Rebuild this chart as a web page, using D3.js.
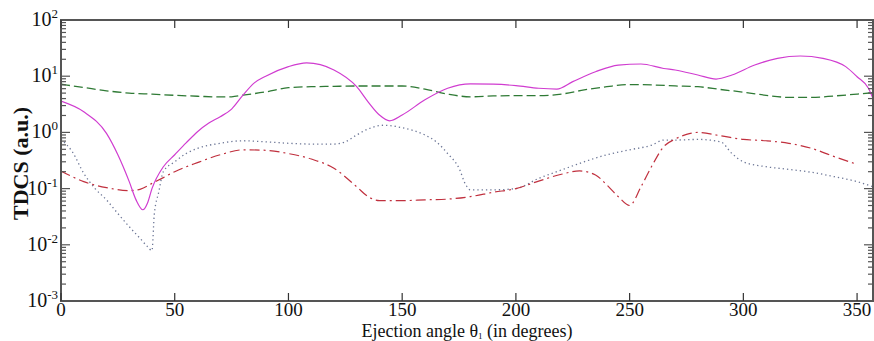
<!DOCTYPE html>
<html>
<head>
<meta charset="utf-8">
<script src="https://cdn.jsdelivr.net/npm/d3@7"></script>
<style>
  body { margin: 0; background: #fff; }
  text { font-family: "Liberation Serif", "Times New Roman", serif; }
</style>
</head>
<body>
<div id="chart-area"></div>
<script>
// ejection angle (deg) and TDCS values
var magentaTheta = [0, 10, 20, 25, 30, 33, 36, 38, 40, 45, 50, 55, 60, 65, 70, 75, 80, 85, 90, 100, 108, 120, 130, 135, 140, 144.5, 150, 160, 170, 180, 190, 200, 210, 218, 225, 235, 245, 255, 265, 270, 280, 288, 295, 305, 315, 325, 335, 345, 350, 355, 357];
var magentaVals  = [3.6, 2.33, 0.96, 0.40, 0.133, 0.063, 0.042, 0.055, 0.10, 0.245, 0.40, 0.65, 1.03, 1.47, 1.9, 2.6, 4.6, 7.6, 10, 14.8, 17.2, 12.9, 6.5, 3.5, 2.04, 1.61, 2.04, 3.8, 6.1, 7.3, 7.2, 6.8, 6.1, 5.9, 8.0, 12, 15.8, 16.5, 13.7, 12.9, 10.5, 8.9, 10.5, 15.8, 20.8, 22.9, 20.8, 14.8, 9.8, 6.1, 4.0];

var greenTheta = [0, 10, 20, 30, 40, 50, 60, 70, 75, 80, 90, 100, 110, 120, 130, 140, 150, 160, 170, 180, 190, 200, 210, 220, 230, 240, 250, 260, 270, 280, 290, 300, 310, 320, 330, 340, 350, 357];
var greenVals  = [7.2, 6.3, 5.5, 5.0, 4.8, 4.57, 4.4, 4.27, 4.3, 4.6, 5.25, 6.25, 6.5, 6.6, 6.7, 6.7, 6.7, 5.9, 4.8, 4.3, 4.45, 4.5, 4.5, 4.8, 5.7, 6.5, 7.1, 7.0, 6.7, 6.5, 5.8, 5.2, 4.57, 4.2, 4.2, 4.45, 4.8, 5.1];

var dottedTheta = [0, 5, 10, 15, 20, 25, 30, 35, 38, 40, 41, 43, 45, 50, 55, 60, 70, 80, 90, 100, 110, 120, 125, 130, 135, 142, 150, 160, 165, 170, 175, 178, 180, 190, 200, 210, 220, 230, 240, 250, 260, 265, 270, 280, 290, 295, 300, 310, 320, 330, 340, 350, 357];
var dottedVals  = [0.76, 0.45, 0.187, 0.10, 0.063, 0.036, 0.021, 0.0127, 0.0093, 0.0079, 0.034, 0.088, 0.2, 0.30, 0.42, 0.52, 0.64, 0.71, 0.68, 0.64, 0.62, 0.62, 0.68, 0.90, 1.15, 1.34, 1.21, 0.90, 0.68, 0.42, 0.23, 0.116, 0.095, 0.095, 0.10, 0.152, 0.214, 0.30, 0.40, 0.49, 0.60, 0.73, 0.73, 0.75, 0.68, 0.42, 0.30, 0.245, 0.22, 0.195, 0.163, 0.133, 0.108];

var redTheta = [0, 10, 20, 30, 35, 40, 45, 50, 60, 70, 80, 90, 100, 110, 120, 130, 135, 140, 150, 160, 170, 180, 190, 200, 210, 220, 228, 235, 240, 245, 250, 255, 260, 265, 270, 275, 280, 290, 300, 310, 320, 330, 340, 350];
var redVals  = [0.206, 0.133, 0.104, 0.092, 0.098, 0.124, 0.157, 0.20, 0.29, 0.40, 0.49, 0.48, 0.42, 0.336, 0.23, 0.108, 0.072, 0.061, 0.061, 0.063, 0.065, 0.072, 0.086, 0.10, 0.136, 0.18, 0.206, 0.175, 0.116, 0.072, 0.050, 0.108, 0.263, 0.56, 0.76, 0.92, 1.0, 0.87, 0.75, 0.71, 0.64, 0.52, 0.37, 0.27];

var xTicks = [0, 50, 100, 150, 200, 250, 300, 350];
var yExponents = [-3, -2, -1, 0, 1, 2];

var width = 874;
var height = 341;
var margin = { left: 61, right: 1, top: 20, bottom: 40 };
var plotL = margin.left, plotR = width - margin.right;
var plotT = margin.top, plotB = height - margin.bottom;

var svg = d3.select("#chart-area").append("svg")
    .attr("width", width)
    .attr("height", height);

var x = d3.scaleLinear()
    .domain([0, 357])
    .range([plotL, plotR]);

var y = d3.scaleLog()
    .domain([1e-3, 1e2])
    .range([plotB, plotT]);

svg.append("clipPath").attr("id", "plot-clip")
    .append("rect")
    .attr("x", plotL).attr("y", plotT)
    .attr("width", plotR - plotL).attr("height", plotB - plotT);

var series = [
    { theta: greenTheta, vals: greenVals, color: "#2f7a35", dash: "9,4", w: 1.3 },
    { theta: dottedTheta, vals: dottedVals, color: "#6c7696", dash: "1.3,3", w: 1.3 },
    { theta: redTheta, vals: redVals, color: "#c0303e", dash: "10,4,2,4", w: 1.2 },
    { theta: magentaTheta, vals: magentaVals, color: "#d03cd0", dash: null, w: 1.2 }
];

var line = d3.line()
    .x((d) => x(d[0]))
    .y((d) => y(d[1]))
    .curve(d3.curveMonotoneX);

var plot = svg.append("g").attr("clip-path", "url(#plot-clip)");

series.forEach((s) => {
    var pts = s.theta.map((t, i) => [t, s.vals[i]]);
    plot.append("path")
        .attr("d", line(pts))
        .attr("fill", "none")
        .attr("stroke", s.color)
        .attr("stroke-width", s.w)
        .attr("stroke-dasharray", s.dash);
});

// frame
var axisColor = "#555";
svg.append("rect")
    .attr("x", plotL).attr("y", plotT)
    .attr("width", plotR - plotL).attr("height", plotB - plotT)
    .attr("fill", "none")
    .attr("stroke", axisColor)
    .attr("stroke-width", 2);

// log ticks, inward on left and right
var logTicks = y.ticks();
logTicks.forEach((t) => {
    var major = Math.abs(Math.log10(t) - Math.round(Math.log10(t))) < 1e-9;
    var len = major ? 9 : 5;
    svg.append("line")
        .attr("x1", plotL).attr("x2", plotL + len)
        .attr("y1", y(t)).attr("y2", y(t))
        .attr("stroke", axisColor).attr("stroke-width", 1.2);
    svg.append("line")
        .attr("x1", plotR).attr("x2", plotR - len)
        .attr("y1", y(t)).attr("y2", y(t))
        .attr("stroke", axisColor).attr("stroke-width", 1.2);
});

// x ticks, inward on top and bottom
xTicks.forEach((t) => {
    svg.append("line")
        .attr("x1", x(t)).attr("x2", x(t))
        .attr("y1", plotT).attr("y2", plotT + 8)
        .attr("stroke", "#333").attr("stroke-width", 1.2);
    svg.append("line")
        .attr("x1", x(t)).attr("x2", x(t))
        .attr("y1", plotB).attr("y2", plotB - 8)
        .attr("stroke", "#333").attr("stroke-width", 1.2);
    svg.append("text")
        .attr("x", x(t))
        .attr("y", plotB + 15)
        .attr("text-anchor", "middle")
        .attr("font-size", "19px")
        .attr("fill", "#111")
        .text(t);
});

// y tick labels 10^n
yExponents.forEach((e) => {
    var lbl = svg.append("text")
        .attr("x", plotL - 3)
        .attr("y", y(Math.pow(10, e)) + 6)
        .attr("text-anchor", "end")
        .attr("font-size", "20px")
        .attr("fill", "#111");
    lbl.append("tspan").text("10");
    lbl.append("tspan")
        .attr("font-size", "13px")
        .attr("dy", "-8")
        .text(e < 0 ? "-" + (-e) : e);
});

// X label
var xl = svg.append("text")
    .attr("x", (plotL + plotR) / 2)
    .attr("y", 337)
    .attr("text-anchor", "middle")
    .attr("font-size", "18px")
    .attr("fill", "#111");
xl.append("tspan").text("Ejection angle θ");
xl.append("tspan").attr("font-size", "9px").attr("dy", "2").text("1");
xl.append("tspan").attr("dy", "-2").text(" (in degrees)");

// Y label
svg.append("text")
    .attr("transform", "translate(28," + ((plotT + plotB) / 2 + 3) + ") rotate(-90)")
    .attr("text-anchor", "middle")
    .attr("font-size", "22px")
    .attr("font-weight", "bold")
    .attr("fill", "#111")
    .text("TDCS (a.u.)");
</script>
</body>
</html>
